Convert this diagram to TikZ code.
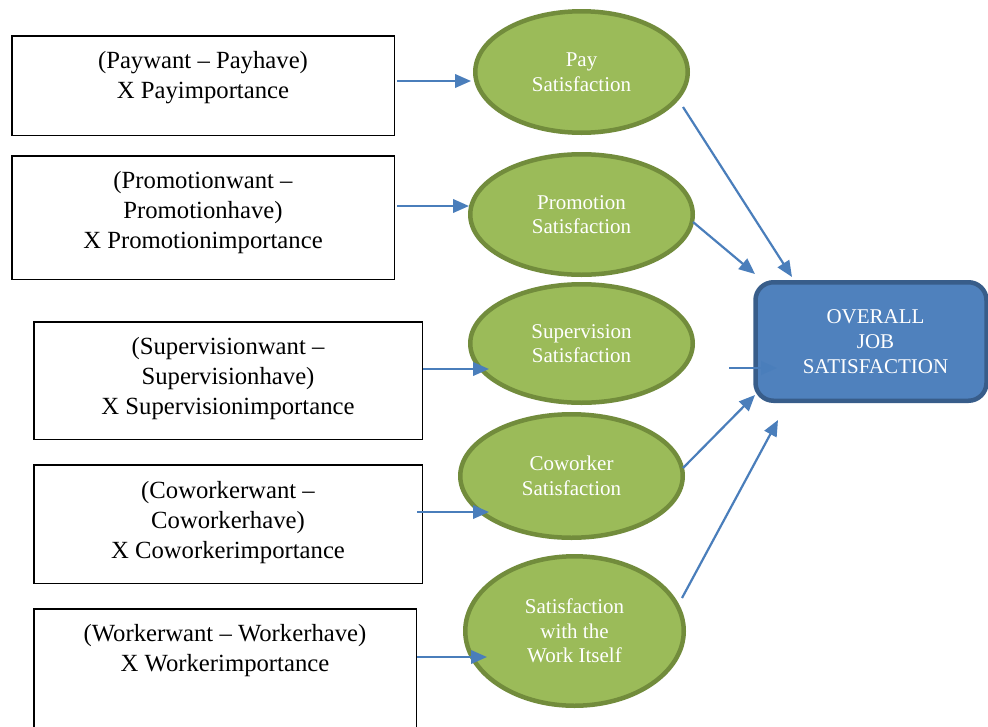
\documentclass[tikz,border=0pt]{standalone}
\usepackage{fontspec}
\setmainfont{Liberation Serif}
\usetikzlibrary{shapes.geometric,arrows.meta}
\definecolor{elfill}{HTML}{9BBB59}
\definecolor{eldraw}{HTML}{728C3C}
\definecolor{rcfill}{HTML}{4F81BD}
\definecolor{rcdraw}{HTML}{385D8A}
\definecolor{arr}{HTML}{4A7EBB}
\begin{document}
\begin{tikzpicture}[x=1pt,y=-1pt,
  inbox/.style={draw=black, line width=1.5pt, rectangle, inner sep=0pt},
  boxtext/.style={align=center, font=\fontsize{24.7pt}{30pt}\selectfont, inner sep=0pt},
  sat/.style={ellipse, draw=eldraw, fill=elfill, line width=4.5pt, inner sep=0pt,
    text=white, align=center, font=\fontsize{21pt}{24.5pt}\selectfont},
  overall/.style={rectangle, rounded corners=18pt, draw=rcdraw, fill=rcfill, line width=4.5pt},
  ovtext/.style={text=white, align=center, inner sep=0pt, font=\fontsize{21pt}{25pt}\selectfont},
  link/.style={draw=arr, line width=2.2pt, -{Triangle[length=16pt,width=13.5pt]}}]
\useasboundingbox (0,0) rectangle (988,726);
\begin{scope}
\clip (0,0) rectangle (988,726);
\fill[white] (0,0) rectangle (988,726);

% input boxes
\node[inbox, minimum width=382.5pt, minimum height=99.5pt] (b1) at (203,85.5) {};
\node[boxtext] (t1) at (203,78) {(Paywant – Payhave)\\X Payimportance};
\node[inbox, minimum width=382.5pt, minimum height=123.5pt] (b2) at (203,217.5) {};
\node[boxtext] (t2) at (203,213) {(Promotionwant –\\Promotionhave)\\X Promotionimportance};
\node[inbox, minimum width=388.5pt, minimum height=117.5pt] (b3) at (228,380.5) {};
\node[boxtext] (t3) at (228,379) {(Supervisionwant –\\Supervisionhave)\\X Supervisionimportance};
\node[inbox, minimum width=388.5pt, minimum height=118.5pt] (b4) at (228,524) {};
\node[boxtext] (t4) at (228,523) {(Coworkerwant –\\Coworkerhave)\\X Coworkerimportance};
\node[inbox, minimum width=382.5pt, minimum height=137.5pt] (b5) at (225,677.5) {};
\node[boxtext] (t5) at (225,651) {(Workerwant – Workerhave)\\X Workerimportance};

% satisfaction ellipses
\node[sat, minimum width=212.5pt, minimum height=121.5pt] (e1) at (581.5,72) {Pay\\Satisfaction};
\node[sat, minimum width=222.5pt, minimum height=120.5pt] (e2) at (581.5,214.5) {Promotion\\Satisfaction};
\node[sat, minimum width=222.5pt, minimum height=118.5pt] (e3) at (581.5,343.5) {Supervision\\Satisfaction};
\node[sat, minimum width=222.5pt, minimum height=123.5pt] (e4) at (571.5,476) {Coworker\\Satisfaction};
\node[sat, minimum width=218.5pt, minimum height=149.5pt] (e5) at (574.5,631) {Satisfaction\\with the\\Work Itself};

% overall
\node[overall, minimum width=231pt, minimum height=118.5pt] (ov) at (871,341.5) {};
\node[ovtext] (ovt) at (875.5,342) {OVERALL\\JOB\\SATISFACTION};

% connector ends
\coordinate (s1) at (397,81);   \coordinate (d1) at (471,81);
\coordinate (s2) at (397,206);  \coordinate (d2) at (469,206);
\coordinate (s3) at (423,369);  \coordinate (d3) at (489,369);
\coordinate (s4) at (417,512);  \coordinate (d4) at (489,512);
\coordinate (s5) at (417,657);  \coordinate (d5) at (487,657);
\coordinate (f1) at (683,107);  \coordinate (g1) at (792,277);
\coordinate (f2) at (693,222);  \coordinate (g2) at (755,274);
\coordinate (f3) at (729,368);  \coordinate (g3) at (777,368);
\coordinate (f4) at (683,468);  \coordinate (g4) at (755,395);
\coordinate (f5) at (682,598);  \coordinate (g5) at (778,420);

\draw[link] (s1) -- (d1);
\draw[link] (s2) -- (d2);
\draw[link] (s3) -- (d3);
\draw[link] (s4) -- (d4);
\draw[link] (s5) -- (d5);
\draw[link] (f1) -- (g1);
\draw[link] (f2) -- (g2);
\draw[link] (f3) -- (g3);
\draw[link] (f4) -- (g4);
\draw[link] (f5) -- (g5);
\end{scope}
\end{tikzpicture}
\end{document}
